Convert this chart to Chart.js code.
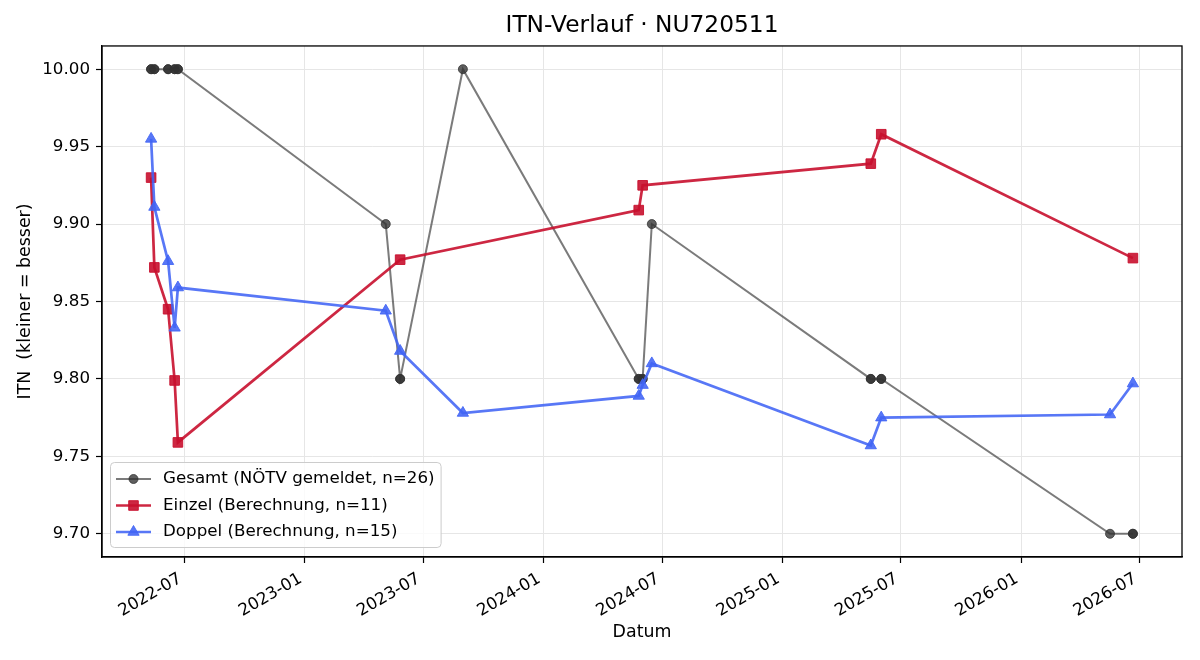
<!DOCTYPE html>
<html>
<head>
<meta charset="utf-8">
<title>ITN-Verlauf</title>
<script src="https://cdn.jsdelivr.net/npm/chart.js@4.4.1/dist/chart.umd.min.js"></script>
<style>
    html, body { margin: 0; padding: 0; background: #fff; }
    #wrap { width: 1200px; height: 660px; }
</style>
</head>
<body>
<div id="wrap"><canvas id="itnChart" width="1200" height="660"></canvas></div>
<script>
// --- DATEN ---
const gesamtDates = ['2022-05-11', '2022-05-11', '2022-05-16', '2022-05-16', '2022-06-06', '2022-06-06',
    '2022-06-16', '2022-06-16', '2022-06-21', '2022-06-21', '2023-05-05', '2023-05-27', '2023-05-27',
    '2023-08-31', '2024-05-26', '2024-05-26', '2024-06-01', '2024-06-01', '2024-06-15', '2025-05-16',
    '2025-05-16', '2025-06-01', '2025-06-01', '2026-05-17', '2026-06-21', '2026-06-21'];
const gesamtItn = [10.00, 10.00, 10.00, 10.00, 10.00, 10.00, 10.00, 10.00, 10.00, 10.00, 9.90, 9.80, 9.80,
    10.00, 9.80, 9.80, 9.80, 9.80, 9.90, 9.80, 9.80, 9.80, 9.80, 9.70, 9.70, 9.70];

const einzelDates = ['2022-05-11', '2022-05-16', '2022-06-06', '2022-06-16', '2022-06-21', '2023-05-27',
    '2024-05-26', '2024-06-01', '2025-05-16', '2025-06-01', '2026-06-21'];
const einzelItn = [9.930, 9.872, 9.845, 9.799, 9.759, 9.877, 9.909, 9.925, 9.939, 9.958, 9.878];

const doppelDates = ['2022-05-11', '2022-05-16', '2022-06-06', '2022-06-16', '2022-06-21', '2023-05-05',
    '2023-05-27', '2023-08-31', '2024-05-26', '2024-06-01', '2024-06-15', '2025-05-16', '2025-06-01',
    '2026-05-17', '2026-06-21'];
const doppelItn = [9.955, 9.911, 9.876, 9.833, 9.859, 9.844, 9.818, 9.778, 9.789, 9.796, 9.810, 9.757,
    9.775, 9.777, 9.797];

const xTickLabels = ['2022-07', '2023-01', '2023-07', '2024-01', '2024-07', '2025-01', '2025-07', '2026-01', '2026-07'];
const yTickValues = [9.70, 9.75, 9.80, 9.85, 9.90, 9.95, 10.00];

const FONT = "'DejaVu Sans', sans-serif";

function toMs(d) { return Date.parse(d + 'T00:00:00Z'); }
function toPoints(dates, vals) { return dates.map((d, i) => ({ x: toMs(d), y: vals[i] })); }

// Achsenbereich wie matplotlib: 5% Rand um die Daten
const allX = gesamtDates.concat(einzelDates, doppelDates).map(toMs);
const allY = gesamtItn.concat(einzelItn, doppelItn);
const xLo = Math.min(...allX), xHi = Math.max(...allX);
const yLo = Math.min(...allY), yHi = Math.max(...allY);
const xPad = (xHi - xLo) * 0.05, yPad = (yHi - yLo) * 0.05;
const xTickValues = xTickLabels.map(s => toMs(s + '-01'));

// Rahmen rund um die Plotfläche (oben + rechts fehlen sonst)
const frame = {
    id: 'frame',
    afterDatasetsDraw(chart) {
        const { ctx, chartArea: a } = chart;
        ctx.save();
        ctx.strokeStyle = '#000';
        ctx.lineWidth = 1.3;
        ctx.strokeRect(a.left, a.top, a.right - a.left, a.bottom - a.top);
        ctx.restore();
    }
};

// Legende unten links in der Plotfläche
const innerLegend = {
    id: 'innerLegend',
    afterDatasetsDraw(chart) {
        const { ctx, chartArea } = chart;
        const sets = chart.data.datasets;
        const rowH = 26.5;
        ctx.save();
        ctx.font = '16.7px ' + FONT;
        const textW = Math.max(...sets.map(s => ctx.measureText(s.label).width));
        const x0 = chartArea.left + 8;
        const h = 17 + (sets.length - 1) * rowH + 15;
        const y0 = chartArea.bottom - 10 - h;
        const w = 53 + textW + 6;

        ctx.beginPath();
        ctx.roundRect(x0 + 0.5, y0 + 0.5, w, h, 4);
        ctx.fillStyle = 'rgba(255,255,255,0.8)';
        ctx.fill();
        ctx.strokeStyle = '#cccccc';
        ctx.lineWidth = 1;
        ctx.stroke();

        sets.forEach((s, i) => {
            const cy = y0 + 17 + i * rowH;
            ctx.beginPath();
            ctx.moveTo(x0 + 6, cy);
            ctx.lineTo(x0 + 41, cy);
            ctx.strokeStyle = s.borderColor;
            ctx.lineWidth = s.borderWidth;
            ctx.stroke();

            ctx.fillStyle = s.pointBackgroundColor;
            ctx.strokeStyle = s.pointBorderColor;
            ctx.lineWidth = s.pointBorderWidth;
            Chart.helpers.drawPoint(ctx, {
                pointStyle: s.pointStyle, radius: s.pointRadius,
                borderWidth: s.pointBorderWidth, rotation: 0
            }, x0 + 23.5, cy);

            ctx.fillStyle = '#000';
            ctx.textAlign = 'left';
            ctx.textBaseline = 'middle';
            ctx.fillText(s.label, x0 + 53, cy);
        });
        ctx.restore();
    }
};

const grayLine = 'rgba(60,60,60,0.68)', grayDot = 'rgba(50,50,50,0.78)';
const red = 'rgba(200,16,46,0.9)';
const blue = 'rgba(65,100,245,0.88)';

new Chart(document.getElementById('itnChart'), {
    type: 'line',
    data: {
        datasets: [
            {
                label: 'Gesamt (NÖTV gemeldet, n=26)',
                data: toPoints(gesamtDates, gesamtItn),
                borderColor: grayLine, borderWidth: 2,
                pointStyle: 'circle', pointRadius: 4.5,
                pointBackgroundColor: grayDot, pointBorderColor: grayDot, pointBorderWidth: 1,
                tension: 0, order: 3
            },
            {
                label: 'Einzel (Berechnung, n=11)',
                data: toPoints(einzelDates, einzelItn),
                borderColor: red, borderWidth: 2.7,
                pointStyle: 'rect', pointRadius: 6.8,
                pointBackgroundColor: red, pointBorderColor: red, pointBorderWidth: 1,
                tension: 0, order: 2
            },
            {
                label: 'Doppel (Berechnung, n=15)',
                data: toPoints(doppelDates, doppelItn),
                borderColor: blue, borderWidth: 2.7,
                pointStyle: 'triangle', pointRadius: 6.5,
                pointBackgroundColor: blue, pointBorderColor: blue, pointBorderWidth: 1,
                tension: 0, order: 1
            }
        ]
    },
    options: {
        responsive: false,
        animation: false,
        devicePixelRatio: 1,
        events: [],
        layout: { padding: { left: 0, right: 18, top: 0, bottom: 0 } },
        plugins: {
            legend: { display: false },
            tooltip: { enabled: false },
            title: {
                display: true,
                fullSize: false,
                text: 'ITN-Verlauf · NU720511',
                color: '#000',
                font: { family: FONT, size: 23.3, weight: 'normal' },
                padding: { top: 12, bottom: 6 }
            }
        },
        scales: {
            x: {
                type: 'linear',
                min: xLo - xPad,
                max: xHi + xPad,
                afterBuildTicks: (scale) => { scale.ticks = xTickValues.map(v => ({ value: v })); },
                afterFit: (scale) => { scale.height = 103; },
                ticks: {
                    autoSkip: false, minRotation: 30, maxRotation: 30, padding: 6, labelOffset: -4,
                    color: '#000', font: { family: FONT, size: 16.7 },
                    callback: (v, i) => xTickLabels[i]
                },
                grid: { color: '#e6e6e6', lineWidth: 1, tickColor: '#000', tickLength: 6, tickWidth: 1.2 },
                border: { display: true, color: '#000', width: 1.3 },
                title: {
                    display: true, text: 'Datum', color: '#000',
                    font: { family: FONT, size: 17.4 }, padding: { top: 0, bottom: 17 }
                }
            },
            y: {
                type: 'linear',
                min: yLo - yPad,
                max: yHi + yPad,
                afterBuildTicks: (scale) => { scale.ticks = yTickValues.map(v => ({ value: v })); },
                afterFit: (scale) => { scale.width = 102; },
                ticks: {
                    padding: 6, color: '#000', font: { family: FONT, size: 16.7 },
                    callback: (v) => Number(v).toFixed(2)
                },
                grid: { color: '#e6e6e6', lineWidth: 1, tickColor: '#000', tickLength: 6, tickWidth: 1.2 },
                border: { display: true, color: '#000', width: 1.3 },
                title: {
                    display: true, text: 'ITN  (kleiner = besser)', color: '#000',
                    font: { family: FONT, size: 17.4 }, padding: { top: 15.5, bottom: 0 }
                }
            }
        }
    },
    plugins: [frame, innerLegend]
});
</script>
</body>
</html>
